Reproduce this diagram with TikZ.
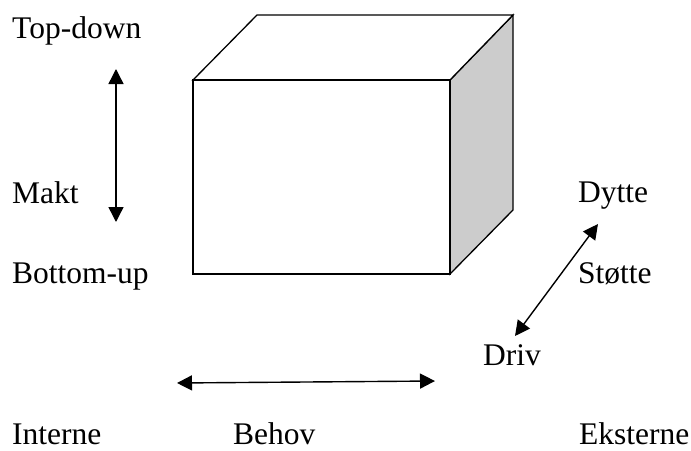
\documentclass[tikz,border=0pt]{standalone}
\usepackage{fontspec}
\setmainfont{Liberation Serif}
\usetikzlibrary{arrows.meta}
\definecolor{sideface}{RGB}{204,204,204}
\begin{document}
\begin{tikzpicture}[x=1pt,y=-1pt,
  lbl/.style={anchor=base west,inner sep=0pt,font=\fontsize{31.5}{36}\selectfont},
  edge/.style={line width=1.3pt,line join=miter},
  dbl/.style={line width=1.4pt,{Triangle[length=15pt,width=15pt]}-{Triangle[length=15pt,width=15pt]}}]
\useasboundingbox (0,0) rectangle (691,450);
% cube corners
\coordinate (fa) at (193,80);
\coordinate (fb) at (450,80);
\coordinate (fc) at (450,274);
\coordinate (fd) at (193,274);
\coordinate (ba) at (257,15);
\coordinate (bb) at (513,15);
\coordinate (bc) at (513,210);
% faces
\draw[edge,fill=sideface] (fb) -- (bb) -- (bc) -- (fc) -- cycle;
\draw[edge,fill=white] (fa) -- (ba) -- (bb) -- (fb) -- cycle;
\draw[edge,fill=white] (fa) rectangle (fc);
% labels
\node[lbl] (td) at (12,38) {Top-down};
\node[lbl] (makt) at (12,203) {Makt};
\node[lbl] (bu) at (12,283) {Bottom-up};
\node[lbl] (dytte) at (578,202) {Dytte};
\node[lbl] (stotte) at (578,283) {Støtte};
\node[lbl] (driv) at (483,365) {Driv};
\node[lbl] (int) at (12,444) {Interne};
\node[lbl] (behov) at (233,444) {Behov};
\node[lbl] (eks) at (579,444) {Eksterne};
% arrow ends
\coordinate (vt) at (116,69);
\coordinate (vb) at (116,222);
\coordinate (hl) at (177,383);
\coordinate (hr) at (435,381);
\coordinate (dl) at (515,336);
\coordinate (dr) at (598,224);
\draw[dbl] (vt) -- (vb);
\draw[dbl] (hl) -- (hr);
\draw[dbl] (dl) -- (dr);
\end{tikzpicture}
\end{document}
